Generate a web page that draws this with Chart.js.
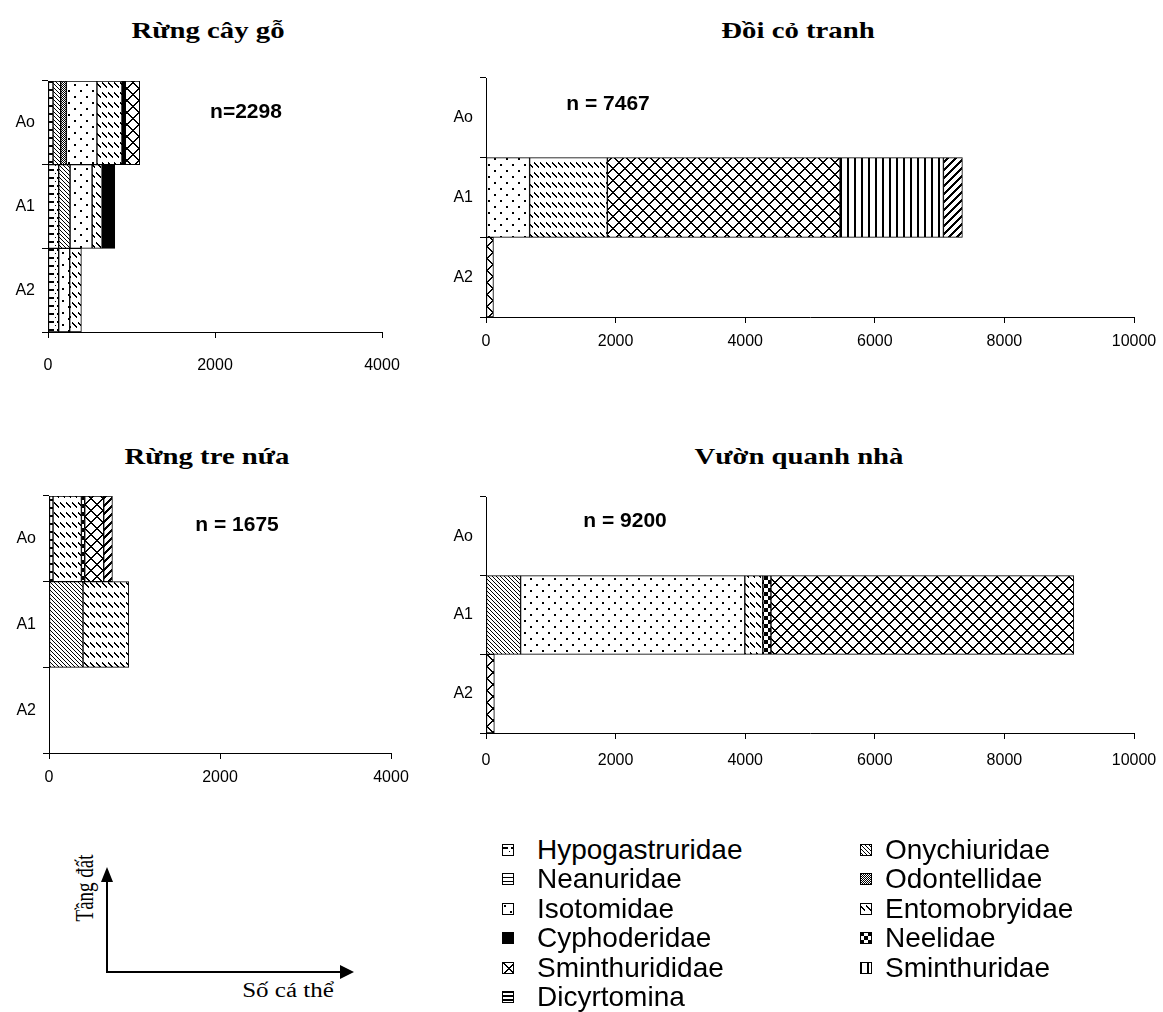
<!DOCTYPE html>
<html>
<head>
<meta charset="utf-8">
<script src="https://cdn.jsdelivr.net/npm/chart.js@4.4.1/dist/chart.umd.min.js"></script>
<style>
body{margin:0;background:#fff;}
#page{position:relative;width:1163px;height:1012px;overflow:hidden;font-family:"Liberation Sans",Arial,sans-serif;color:#000;}
.cv{position:absolute;}
.title{position:absolute;font-family:"Liberation Serif","Times New Roman",serif;font-weight:bold;font-size:23px;transform:translate(-50%,-50%) scaleX(1.25);white-space:nowrap;}
.nlab{position:absolute;font-weight:bold;font-size:21px;transform:translate(-50%,-50%);white-space:nowrap;}
#legend{position:absolute;left:502px;top:835px;display:grid;grid-template-columns:358px 300px;grid-auto-rows:29.5px;font-size:28px;}
#legend div{display:flex;align-items:center;white-space:nowrap;}
#legend div canvas{margin-right:23px;}
#legend div:nth-child(even) canvas{margin-right:13px;}
#diagram{position:absolute;left:0;top:840px;}
</style>
</head>
<body>
<div id="page">
  <div class="title" style="left:208px;top:31px">Rừng cây gỗ</div>
  <div class="title" style="left:798px;top:31px">Đồi cỏ tranh</div>
  <div class="title" style="left:207px;top:457px">Rừng tre nứa</div>
  <div class="title" style="left:799px;top:457px">Vườn quanh nhà</div>

  <canvas id="c1" class="cv" width="400" height="312" style="left:0;top:70px"></canvas>
  <canvas id="c2" class="cv" width="743" height="320" style="left:420px;top:60px"></canvas>
  <canvas id="c3" class="cv" width="410" height="320" style="left:0;top:480px"></canvas>
  <canvas id="c4" class="cv" width="743" height="320" style="left:420px;top:480px"></canvas>

  <div class="nlab" style="left:246px;top:111px">n=2298</div>
  <div class="nlab" style="left:608px;top:103px">n = 7467</div>
  <div class="nlab" style="left:237px;top:524px">n = 1675</div>
  <div class="nlab" style="left:625px;top:520px">n = 9200</div>

  <svg id="diagram" width="400" height="172">
    <line x1="107" y1="40" x2="107" y2="132" stroke="#000" stroke-width="2"/>
    <polygon points="101,42 113,42 107,27" fill="#000"/>
    <line x1="106" y1="132" x2="342" y2="132" stroke="#000" stroke-width="2"/>
    <polygon points="340,125 340,139 354,132" fill="#000"/>
    <text transform="translate(93,48) scale(1.3,1) rotate(-90)" text-anchor="middle" font-family="Liberation Serif, Times New Roman, serif" font-size="19">Tầng đất</text>
    <text transform="translate(288,157) scale(1.25,1)" text-anchor="middle" font-family="Liberation Serif, Times New Roman, serif" font-size="20">Số cá thể</text>
  </svg>

  <div id="legend"></div>
</div>
<script>
// soil layers (y categories)
const layers = ['Ao', 'A1', 'A2'];

// families, in series order
const families = ['Hypogastruridae', 'Onychiuridae', 'Neanuridae', 'Odontellidae', 'Isotomidae',
  'Entomobryidae', 'Cyphoderidae', 'Neelidae', 'Sminthurididae', 'Sminthuridae', 'Dicyrtomina'];

// individuals per family, one array per layer
// Rừng cây gỗ (n=2298)
const rungCayGo_Ao = [60, 92, 0, 68, 366, 300, 40, 0, 172, 0, 0];
const rungCayGo_A1 = [128, 136, 0, 0, 264, 120, 152, 0, 0, 0, 0];
const rungCayGo_A2 = [128, 0, 0, 0, 132, 140, 0, 0, 0, 0, 0];
// Đồi cỏ tranh (n = 7467)
const doiCoTranh_Ao = [0, 0, 0, 0, 0, 0, 0, 0, 0, 0, 0];
const doiCoTranh_A1 = [0, 0, 0, 0, 673, 1200, 0, 0, 3592, 1594, 293];
const doiCoTranh_A2 = [0, 0, 0, 0, 0, 0, 0, 0, 115, 0, 0];
// Rừng tre nứa (n = 1675)
const rungTreNua_Ao = [47, 0, 0, 0, 0, 332, 0, 39, 222, 0, 102];
const rungTreNua_A1 = [0, 398, 0, 0, 0, 535, 0, 0, 0, 0, 0];
const rungTreNua_A2 = [0, 0, 0, 0, 0, 0, 0, 0, 0, 0, 0];
// Vườn quanh nhà (n = 9200)
const vuonQuanhNha_Ao = [0, 0, 0, 0, 0, 0, 0, 0, 0, 0, 0];
const vuonQuanhNha_A1 = [0, 534, 0, 0, 3460, 278, 0, 125, 4674, 0, 0];
const vuonQuanhNha_A2 = [0, 0, 0, 0, 0, 0, 0, 0, 129, 0, 0];

// x axis ticks
const ticksSmall = [0, 2000, 4000];
const ticksLarge = [0, 2000, 4000, 6000, 8000, 10000];

// black & white fill patterns built from a pixel rule
function tile(w, h, on) {
  const c = document.createElement('canvas');
  c.width = w; c.height = h;
  const g = c.getContext('2d');
  const img = g.createImageData(w, h);
  for (let y = 0; y < h; y++) {
    for (let x = 0; x < w; x++) {
      const v = on(x, y) ? 0 : 255;
      const k = (y * w + x) * 4;
      img.data[k] = img.data[k + 1] = img.data[k + 2] = v;
      img.data[k + 3] = 255;
    }
  }
  g.putImageData(img, 0, 0);
  return g.createPattern(c, 'repeat');
}

const fills = [
  tile(8, 8, (x, y) => (y >= 3 && y <= 4 && x >= 1 && x <= 5) || (x == 7 && y == 7)),   // Hypogastruridae
  tile(4, 4, (x, y) => x == y),                                                      // Onychiuridae
  tile(1, 4, (x, y) => y == 0),                                                      // Neanuridae
  tile(2, 2, (x, y) => (x + y) % 2 == 0),                                            // Odontellidae
  tile(12, 12, (x, y) => (x >= 2 && x <= 3 && y >= 2 && y <= 3) || (x >= 8 && x <= 9 && y >= 8 && y <= 9)), // Isotomidae
  tile(6, 10, (x, y) => x <= 4 && (y - x == 2 || y - x == 3)),                       // Entomobryidae
  '#000',                                                                            // Cyphoderidae
  tile(8, 8, (x, y) => ((x >> 2) + (y >> 2)) % 2 == 0),                              // Neelidae
  tile(12, 12, (x, y) => (x - y + 12) % 12 < 2 || (x + y) % 12 < 2),                 // Sminthurididae
  tile(7, 1, (x, y) => x < 2),                                                       // Sminthuridae
  tile(8, 8, (x, y) => (x + y) % 8 < 3)                                              // Dicyrtomina
];
const legendFills = fills.slice();
legendFills[10] = tile(1, 4, (x, y) => y < 2);

function makeChart(id, rows, ticks, o) {
  const datasets = families.map((name, i) => ({
    label: name,
    data: rows.map(r => r[i] || null),
    backgroundColor: fills[i],
    borderColor: '#000',
    borderWidth: 1,
    borderSkipped: false
  }));
  return new Chart(document.getElementById(id), {
    type: 'bar',
    data: { labels: layers, datasets: datasets },
    options: {
      indexAxis: 'y',
      responsive: false,
      animation: false,
      barPercentage: 1,
      categoryPercentage: 1,
      layout: { padding: { top: o.top, right: o.right, left: 0, bottom: 0 } },
      plugins: { legend: { display: false }, tooltip: { enabled: false } },
      scales: {
        y: {
          stacked: true,
          grid: { offset: true, drawOnChartArea: false, tickLength: 6, color: '#000' },
          border: { display: true, color: '#000' },
          ticks: { color: '#000', font: { family: 'Liberation Sans', size: 16 }, padding: 7 },
          afterFit: s => { s.width = o.yw; s.paddingTop = 0; s.paddingBottom = 0; }
        },
        x: {
          stacked: true,
          min: ticks[0],
          max: ticks[ticks.length - 1],
          afterBuildTicks: s => { s.ticks = ticks.map(v => ({ value: v })); },
          grid: { drawOnChartArea: false, tickLength: 6, color: '#000' },
          border: { display: true, color: '#000' },
          ticks: { color: '#000', font: { family: 'Liberation Sans', size: 16 }, padding: o.xpad, callback: v => String(v) },
          afterFit: s => { s.height = o.xh; s.paddingLeft = 0; s.paddingRight = 0; }
        }
      }
    }
  });
}

makeChart('c1', [rungCayGo_Ao, rungCayGo_A1, rungCayGo_A2], ticksSmall, { top: 11, right: 18, yw: 48, xh: 50, xpad: 18 });
makeChart('c2', [doiCoTranh_Ao, doiCoTranh_A1, doiCoTranh_A2], ticksLarge, { top: 18, right: 29, yw: 66, xh: 63, xpad: 9 });
makeChart('c3', [rungTreNua_Ao, rungTreNua_A1, rungTreNua_A2], ticksSmall, { top: 16, right: 19, yw: 49, xh: 47, xpad: 9 });
makeChart('c4', [vuonQuanhNha_Ao, vuonQuanhNha_A1, vuonQuanhNha_A2], ticksLarge, { top: 17, right: 29, yw: 66, xh: 67, xpad: 12 });

// legend: two columns, filled row by row
const legend = document.getElementById('legend');
families.forEach((name, i) => {
  const item = document.createElement('div');
  const c = document.createElement('canvas');
  c.width = 12; c.height = 12;
  const g = c.getContext('2d');
  g.fillStyle = legendFills[i];
  g.fillRect(0, 0, 12, 12);
  g.strokeStyle = '#000';
  g.lineWidth = 1;
  g.strokeRect(0.5, 0.5, 11, 11);
  item.appendChild(c);
  item.appendChild(document.createTextNode(name));
  legend.appendChild(item);
});
</script>
</body>
</html>
